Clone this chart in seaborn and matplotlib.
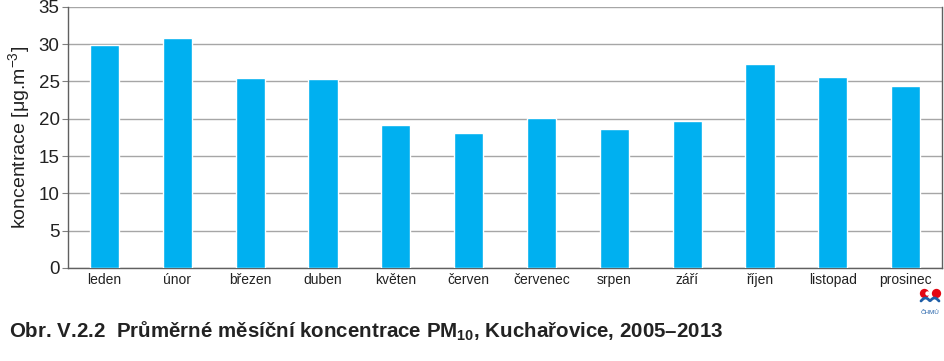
import matplotlib
matplotlib.use("Agg")
import matplotlib.pyplot as plt
import seaborn as sns
import pandas as pd
import numpy as np

# monthly means PM10, Kucharovice 2005-2013
months = ["leden", "únor", "březen", "duben", "květen", "červen",
          "červenec", "srpen", "září", "říjen", "listopad", "prosinec"]
pm10 = [29.9, 30.8, 25.4, 25.3, 19.2, 18.1, 20.1, 18.6, 19.7, 27.3, 25.6, 24.4]
yticks = [0, 5, 10, 15, 20, 25, 30, 35]

df = pd.DataFrame({"mesic": months, "koncentrace": pm10})

sns.set_style("white")
plt.rcParams["font.family"] = ["Liberation Sans", "DejaVu Sans"]
plt.rcParams["mathtext.fontset"] = "custom"
plt.rcParams["mathtext.rm"] = "Liberation Sans"
plt.rcParams["mathtext.bf"] = "Liberation Sans:bold"

fig = plt.figure(figsize=(9.45, 3.61), dpi=100)
ax = fig.add_axes([0.072, 0.258, 0.925, 0.723])

sns.barplot(data=df, x="mesic", y="koncentrace", color="#00B0F0",
            width=0.4, saturation=1, ax=ax, zorder=3)

ax.set_ylim(0, 35)
ax.set_yticks(yticks)
ax.set_xlim(-0.5, 11.5)
ax.grid(axis="y", color="#A6A6A6", linewidth=1, zorder=0)
ax.tick_params(axis="y", labelsize=13.5, length=4, width=0.8, color="#808080",
               direction="out", left=True, pad=2, labelcolor="#222222")
ax.tick_params(axis="x", labelsize=10, length=0, pad=4, labelcolor="#222222")
ax.set_xlabel("")
ax.set_ylabel(r"koncentrace [μg.m$^{\mathregular{-3}}$]", fontsize=14,
              color="#222222", labelpad=4)

for side in ["left", "right", "bottom"]:
    ax.spines[side].set_color("#606060")
    ax.spines[side].set_linewidth(1)
ax.spines["top"].set_visible(False)

fig.text(0.009, 0.066,
         r"Obr. V.2.2  Průměrné měsíční koncentrace PM$_{\mathbf{10}}$, Kuchařovice, 2005–2013",
         fontsize=14.8, fontweight="bold", color="#222222")

# small CHMU logo
lg = fig.add_axes([916 / 945, 1 - 316 / 361, 28 / 945, 28 / 361])
lg.set_xlim(0, 28)
lg.set_ylim(28, 0)
lg.axis("off")
lg.scatter([8, 20], [5, 5], s=45, color="#E30613", linewidths=0)
lg.scatter([11.5], [5], s=10, color="white", linewidths=0)
t = np.linspace(0, 1, 30)
lg.plot(5 + 18 * t, 13 - 3 * np.abs(np.sin(np.pi * 2 * t)), color="#1F5FA8", lw=2)
lg.text(14, 24, "ČHMÚ", color="#1F5FA8", fontsize=4.5, ha="center", va="center")

fig.savefig("out.png", dpi=100)
